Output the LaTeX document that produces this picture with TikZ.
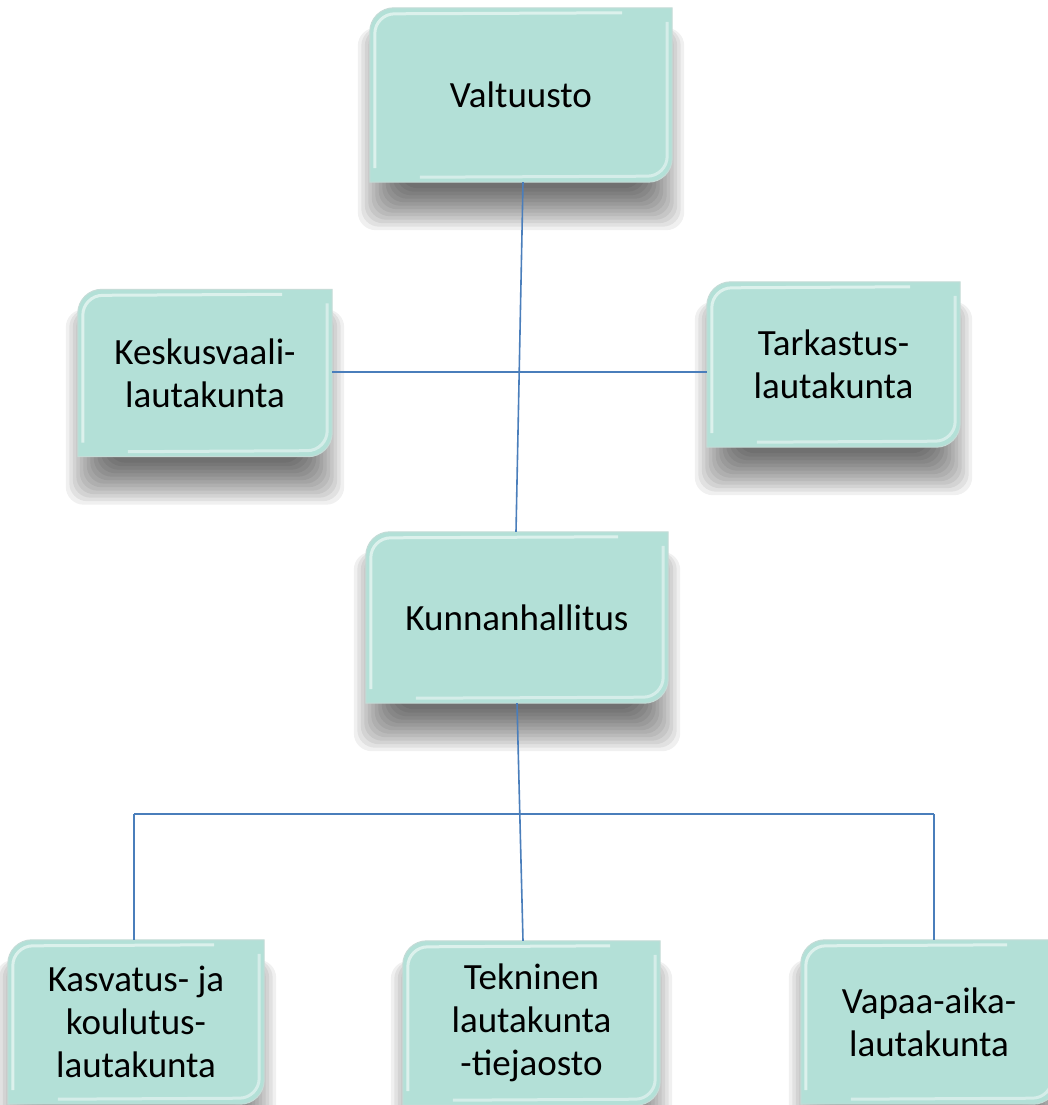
\documentclass[tikz,border=0pt]{standalone}
\usepackage{fontspec}
\setmainfont{Carlito}
\usetikzlibrary{backgrounds,calc}
\definecolor{boxc}{HTML}{B3E0D7}
\definecolor{linec}{HTML}{4A7EBB}
\tikzset{
  box/.style={align=center, inner sep=0pt, font=\fontsize{37}{43}\selectfont, text=black},
  conn/.style={draw=linec, line width=1.6pt},
  boxshape/.style={fill=boxc, draw=white!40!boxc!85!gray, line width=1pt},
  shadowlayer/.style={fill=black, opacity=0.06, rounded corners=18pt},
}
\newcommand\shapebox[1]{%
  \foreach \i in {0,...,12} {
    \path[shadowlayer] ([xshift=-12pt+\i*3.5pt, yshift=-20pt]#1.north west)
      rectangle ([xshift=12pt-\i*3.5pt, yshift=-48pt+\i*3.5pt]#1.south east);
  }
  \path[boxshape] (#1.south west) -- ([yshift=-24pt]#1.north west)
    arc[start angle=180, end angle=90, radius=24pt] -- (#1.north east)
    -- ([yshift=24pt]#1.south east)
    arc[start angle=0, end angle=-90, radius=24pt] -- cycle;
  \path[draw=white, opacity=0.55, line width=3pt] ([xshift=5pt,yshift=14pt]#1.south west) -- ([xshift=5pt,yshift=-26pt]#1.north west)
    arc[start angle=180, end angle=90, radius=20pt] -- ([xshift=-50pt,yshift=-5pt]#1.north east);
  \path[draw=white, opacity=0.45, line width=3pt] ([xshift=-5pt,yshift=-14pt]#1.north east) -- ([xshift=-5pt,yshift=26pt]#1.south east)
    arc[start angle=0, end angle=-90, radius=20pt] -- ([xshift=50pt,yshift=5pt]#1.south west);
}
\begin{document}
\begin{tikzpicture}[x=1pt,y=1pt]
\useasboundingbox (0,0) rectangle (1048,-1105);
\clip (0,0) rectangle (1048,-1105);
\node[box, minimum width=302pt, minimum height=174pt] (v) at (521,-95) {Valtuusto};
\node[box, minimum width=254pt, minimum height=167pt] (k) at (205,-373) {Keskusvaali-\\lautakunta};
\node[box, minimum width=253pt, minimum height=165pt] (t) at (833.5,-364.5) {Tarkastus-\\lautakunta};
\node[box, minimum width=302pt, minimum height=171pt] (kh) at (517,-617.5) {Kunnanhallitus};
\node[box, minimum width=256pt, minimum height=164pt] (ka) at (136,-1022) {Kasvatus- ja\\koulutus-\\lautakunta};
\node[box, minimum width=257pt, minimum height=164pt] (te) at (531.5,-1023) {Tekninen\\lautakunta\\-tiejaosto};
\node[box, minimum width=256pt, minimum height=164pt] (va) at (929,-1022) {Vapaa-aika-\\lautakunta};
\begin{pgfonlayer}{background}
\fill[white] (0,0) rectangle (1048,-1105);
\foreach \n in {v,k,t,kh,ka,te,va} {\shapebox{\n}}
\end{pgfonlayer}
\coordinate (bl) at (134,-814);
\coordinate (br) at (934,-814);
\coordinate (hm) at (332,-372);
\draw[conn] ([xshift=2pt]v.south) -- ([xshift=-1pt]kh.north);
\draw[conn] (hm -| k.east) -- (hm -| t.west);
\draw[conn] (kh.south) -- ([xshift=-8.5pt]te.north);
\draw[conn] (bl) -- (br);
\draw[conn] (bl) -- (bl |- ka.north);
\draw[conn] (br) -- (br |- va.north);
\end{tikzpicture}
\end{document}
